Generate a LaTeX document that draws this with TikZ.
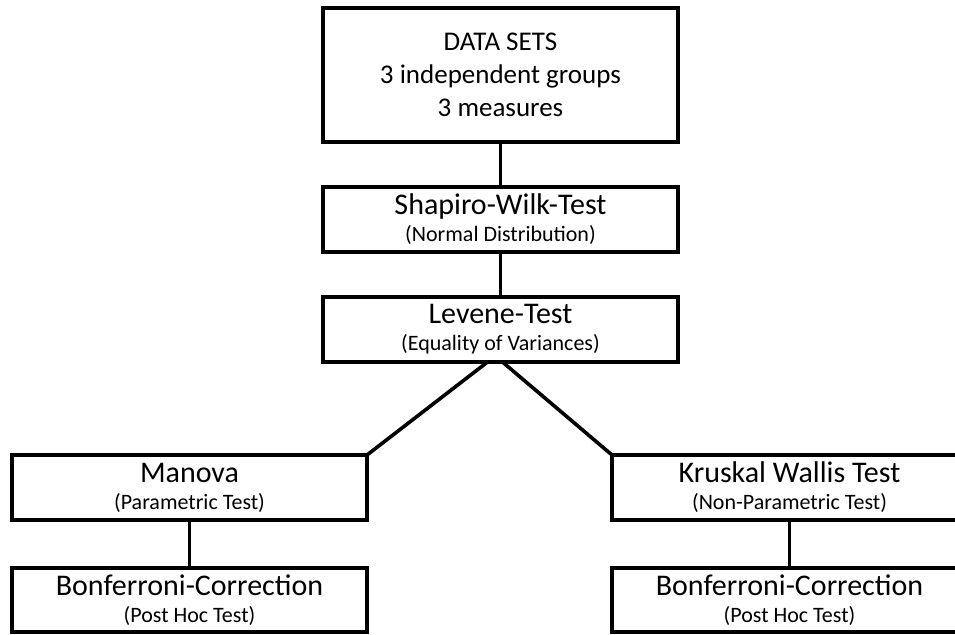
\documentclass[tikz,border=0pt]{standalone}
\usepackage{fontspec}
\setmainfont{Carlito}
\usetikzlibrary{positioning}

\newcommand{\subtxt}[1]{{\fontsize{22}{22}\selectfont #1}}

\begin{document}
\begin{tikzpicture}[
    x=1pt, y=-1pt,
    node distance=45pt and 0pt,
    box/.style={draw, line width=3.6pt, outer sep=0pt, inner sep=0pt, align=center,
                minimum width=355pt, minimum height=65pt, font=\fontsize{30}{27}\selectfont},
    link/.style={line width=3.6pt}
]
\useasboundingbox (0,0) rectangle (955,634);

\node[box, minimum height=134pt, font=\fontsize{27}{33}\selectfont] (data) at (500.5,75)
    {DATA SETS\\3 independent groups\\3 measures};
\node[box, below=of data] (shapiro) {Shapiro-Wilk-Test\\\subtxt{(Normal Distribution)}};
\node[box, below=of shapiro] (levene) {Levene-Test\\\subtxt{(Equality of Variances)}};

\node[box, below=93pt of levene, xshift=-311pt] (manova) {Manova\\\subtxt{(Parametric Test)}};
\node[box, below=93pt of levene, xshift=289pt] (kruskal) {Kruskal Wallis Test\\\subtxt{(Non-Parametric Test)}};
\node[box, below=48pt of manova, minimum height=64pt] (bonfl) {Bonferroni-Correction\\\subtxt{(Post Hoc Test)}};
\node[box, below=48pt of kruskal, minimum height=64pt] (bonfr) {Bonferroni-Correction\\\subtxt{(Post Hoc Test)}};

\draw[link] (data) -- (shapiro);
\draw[link] (shapiro) -- (levene);
\draw[link] ([xshift=-13pt]levene.south) -- (manova.north east);
\draw[link] ([xshift=2pt]levene.south) -- (kruskal.north west);
\draw[link] (manova) -- (bonfl);
\draw[link] (kruskal) -- (bonfr);
\end{tikzpicture}
\end{document}
